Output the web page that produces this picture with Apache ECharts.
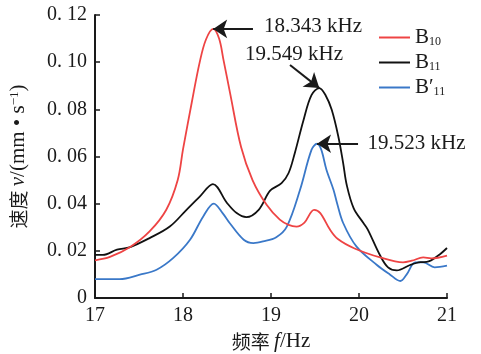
<!DOCTYPE html>
<html>
<head>
<meta charset="utf-8">
<script src="https://cdn.jsdelivr.net/npm/echarts@6/dist/echarts.min.js"></script>
<style>
  html, body { margin: 0; padding: 0; background: #fff; }
  #chart { width: 481px; height: 354px; }
</style>
</head>
<body>
<div id="chart"></div>
<script>
// Frequency axis ticks (Hz) and velocity axis ticks (mm/s)
const xTicks = [17, 18, 19, 20, 21];
const yTicks = [0, 0.02, 0.04, 0.06, 0.08, 0.10, 0.12];

// Resonance peaks: frequency and amplitude of each mode
const peakFreq = [18.343, 19.549, 19.523];
const peakVel = [0.1141, 0.0890, 0.0654];

// B10 response
const b10Freq = [17.0, 17.17, 17.4, 17.62, 17.81, 17.94, 18.0, 18.1, 18.19, 18.26, peakFreq[0], 18.41, 18.46, 18.535, 18.66, 18.79, 18.95, 19.1, 19.2, 19.29, 19.38, 19.49, 19.56, 19.67, 19.76, 19.95, 20.24, 20.5, 20.6, 20.73, 20.82, 21.0];
const b10Vel  = [0.0160, 0.0174, 0.0216, 0.0282, 0.0374, 0.0500, 0.0630, 0.0830, 0.1000, 0.1095, peakVel[0], 0.1100, 0.1010, 0.0869, 0.0640, 0.0500, 0.0395, 0.0332, 0.0310, 0.0303, 0.0320, 0.0374, 0.0360, 0.0290, 0.0250, 0.0210, 0.0172, 0.0151, 0.0158, 0.0172, 0.0168, 0.0180];

// B11 response
const b11Freq = [17.0, 17.09, 17.25, 17.4, 17.62, 17.85, 18.04, 18.19, 18.34, 18.5, 18.61, 18.72, 18.86, 18.99, 19.12, 19.2, 19.27, 19.37, 19.46, peakFreq[1], 19.62, 19.69, 19.765, 19.82, 19.86, 19.94, 20.05, 20.1, 20.24, 20.33, 20.43, 20.58, 20.7, 20.77, 20.9, 21.0];
const b11Vel  = [0.0183, 0.0183, 0.0205, 0.0216, 0.0254, 0.0303, 0.0374, 0.0430, 0.0483, 0.0403, 0.0360, 0.0343, 0.0374, 0.0455, 0.0487, 0.0530, 0.0614, 0.0755, 0.0860, peakVel[1], 0.0860, 0.0798, 0.0685, 0.0572, 0.0480, 0.0380, 0.0318, 0.0290, 0.0180, 0.0130, 0.0117, 0.0140, 0.0152, 0.0153, 0.0180, 0.0212];

// B'11 response
const b11pFreq = [17.0, 17.28, 17.51, 17.7, 17.89, 18.08, 18.23, 18.35, 18.45, 18.53, 18.69, 18.8, 18.91, 19.06, 19.18, 19.33, 19.46, peakFreq[2], 19.57, 19.63, 19.71, 19.75, 19.82, 19.97, 20.2, 20.35, 20.47, 20.54, 20.64, 20.73, 20.86, 21.0];
const b11pVel  = [0.0080, 0.0080, 0.0099, 0.0120, 0.0170, 0.0247, 0.0346, 0.0400, 0.0360, 0.0318, 0.0247, 0.0233, 0.0240, 0.0258, 0.0303, 0.0459, 0.0628, peakVel[2], 0.0630, 0.0544, 0.0459, 0.0403, 0.0318, 0.0219, 0.0141, 0.0100, 0.0072, 0.0099, 0.0151, 0.0151, 0.0130, 0.0137];

const seriesNames = ['B10', 'B11', "B'11"];
const seriesColors = ['#ee4444', '#111111', '#3a78c8'];

// Where each peak annotation's arrow starts and its text sits (axis units)
const arrowTail = [[18.795, peakVel[0]], [19.216, 0.0988], [19.989, peakVel[2]]];
const textAt = [[19.477, 0.1150], [19.261, 0.1031], [20.653, 0.0654]];

const serif = '"Liberation Serif", "Times New Roman", serif';
const cjk = '"Noto Sans CJK SC", sans-serif';

function zip(xs, ys) { return xs.map((x, i) => [x, ys[i]]); }

const arrowColor = '#1a1a1a';
function arrowLine(i) {
  return [{ coord: arrowTail[i] }, { coord: [peakFreq[i], peakVel[i]] }];
}
function peakText(i) {
  return {
    coord: textAt[i], symbol: 'rect', symbolSize: 1,
    itemStyle: { color: 'rgba(0,0,0,0)' },
    label: {
      show: true, position: 'inside', formatter: peakFreq[i].toFixed(3) + ' kHz',
      fontFamily: serif, fontSize: 21, color: '#1a1a1a'
    }
  };
}

const legendNames = {
  'B10': '{b|B}{s|10}',
  'B11': '{b|B}{s|11}',
  "B'11": '{b|B′}{s|11}'
};

const chart = echarts.init(document.getElementById('chart'), null, { renderer: 'canvas' });

const seriesData = [zip(b10Freq, b10Vel), zip(b11Freq, b11Vel), zip(b11pFreq, b11pVel)];

const series = seriesData.map((d, i) => ({
  name: seriesNames[i],
  type: 'line',
  data: d,
  smooth: 0.35,
  symbol: 'none',
  lineStyle: { color: seriesColors[i], width: 1.8 },
  itemStyle: { color: seriesColors[i] },
  z: 3 - i,
  markLine: {
    silent: true,
    symbol: ['none', 'arrow'],
    symbolSize: 14,
    lineStyle: { color: arrowColor, width: 2, type: 'solid' },
    label: { show: false },
    data: [arrowLine(i)]
  },
  markPoint: {
    silent: true,
    data: [peakText(i)]
  }
}));

chart.setOption({
  animation: false,
  backgroundColor: '#ffffff',
  grid: { left: 95, right: 34, top: 15, bottom: 56, containLabel: false, outerBoundsMode: 'none' },
  legend: {
    orient: 'vertical',
    left: 374,
    top: 22,
    icon: 'rect',
    itemWidth: 31,
    itemHeight: 2,
    itemGap: 4,
    data: seriesNames,
    formatter: name => legendNames[name],
    textStyle: {
      color: '#1a1a1a',
      rich: {
        b: { fontFamily: serif, fontSize: 21, color: '#1a1a1a', lineHeight: 21 },
        s: { fontFamily: serif, fontSize: 12, color: '#1a1a1a', verticalAlign: 'bottom', lineHeight: 12, padding: [8, 0, 0, 0] }
      }
    }
  },
  xAxis: {
    type: 'value',
    min: xTicks[0],
    max: xTicks[xTicks.length - 1],
    interval: 1,
    name: '{c|频率 }{i|f}{n|/Hz}',
    nameLocation: 'middle',
    nameGap: 33,
    nameTextStyle: {
      rich: {
        c: { fontFamily: cjk, fontSize: 19, color: '#1a1a1a' },
        i: { fontFamily: serif, fontStyle: 'italic', fontSize: 21, color: '#1a1a1a' },
        n: { fontFamily: serif, fontSize: 21, color: '#1a1a1a' }
      }
    },
    axisLine: { show: true, onZero: false, lineStyle: { color: '#1a1a1a', width: 2 } },
    axisTick: { show: true, inside: true, length: 5, lineStyle: { color: '#1a1a1a', width: 1.5 } },
    axisLabel: { fontFamily: serif, fontSize: 20, color: '#1a1a1a', margin: 8 },
    splitLine: { show: false }
  },
  yAxis: {
    type: 'value',
    min: yTicks[0],
    max: yTicks[yTicks.length - 1],
    interval: 0.02,
    name: '{c|速度 }{i|v}{n|/(mm • s}{sup|−1}{n|)}',
    nameLocation: 'middle',
    nameRotate: 90,
    nameGap: 66,
    nameTextStyle: {
      rich: {
        c: { fontFamily: cjk, fontSize: 19, color: '#1a1a1a' },
        i: { fontFamily: serif, fontStyle: 'italic', fontSize: 21, color: '#1a1a1a' },
        n: { fontFamily: serif, fontSize: 21, color: '#1a1a1a' },
        sup: { fontFamily: serif, fontSize: 13, color: '#1a1a1a', verticalAlign: 'top', padding: [0, 0, 8, 0] }
      }
    },
    axisLine: { show: true, lineStyle: { color: '#1a1a1a', width: 2 } },
    axisTick: { show: true, inside: true, length: 5, lineStyle: { color: '#1a1a1a', width: 1.5 } },
    axisLabel: {
      fontFamily: serif, fontSize: 20, color: '#1a1a1a', margin: 8,
      formatter: v => (v === 0 ? '0' : v.toFixed(2).replace('.', '. '))
    },
    splitLine: { show: false }
  },
  series: series
});
</script>
</body>
</html>
